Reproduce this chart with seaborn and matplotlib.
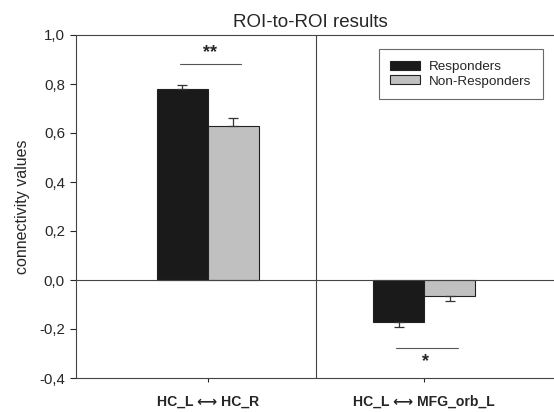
import matplotlib
matplotlib.use("Agg")
import matplotlib.pyplot as plt
import seaborn as sns
import pandas as pd
import numpy as np
from matplotlib.ticker import FuncFormatter

categories = ["HC_L \u27f7 HC_R", "HC_L \u27f7 MFG_orb_L"]
groups = ["Responders", "Non-Responders"]
responders = [0.78, -0.171]
non_responders = [0.629, -0.064]
resp_err = [0.016, 0.019]
nonresp_err = [0.032, 0.023]
sig_labels = ["**", "*"]
sig_y = [0.88, -0.279]

sns.set_style("white")
plt.rcParams['font.family'] = ['Liberation Sans', 'DejaVu Sans']

df = pd.DataFrame({
    "pair": categories * 2,
    "group": [groups[0]] * 2 + [groups[1]] * 2,
    "value": responders + non_responders,
})

fig = plt.figure(figsize=(5.54, 4.12), dpi=100)
ax = fig.add_axes([76 / 554, 34 / 412, 478 / 554, 343 / 412])

sns.barplot(data=df, x="pair", y="value", hue="group", hue_order=groups,
            palette=["#1a1a1a", "#c0c0c0"], edgecolor="#222222", linewidth=0.8,
            width=0.47, gap=0, errorbar=None, ax=ax)

# error bars (one-sided, away from zero)
errs = [resp_err, nonresp_err]
vals = [responders, non_responders]
bar_containers = list(ax.containers)
for gi, cont in enumerate(bar_containers):
    for ci, bar in enumerate(cont.patches):
        x = bar.get_x() + bar.get_width() / 2
        v = vals[gi][ci]
        e = errs[gi][ci]
        yerr = [[0], [e]] if v >= 0 else [[e], [0]]
        ax.errorbar([x], [v], yerr=yerr, fmt="none", ecolor="#333333",
                    elinewidth=0.9, capsize=3.8, capthick=0.9)

ax.set_xlim(-0.608, 1.599)
ax.set_ylim(-0.4, 1.0)
ax.set_yticks(np.arange(-0.4, 1.01, 0.2))
ax.yaxis.set_major_formatter(FuncFormatter(lambda v, p: f"{v:.1f}".replace(".", ",").replace("-0,0", "0,0")))
ax.axhline(0, color="#444444", lw=0.8)
ax.axvline(0.5, color="#444444", lw=0.8)

for i, (lab, y) in enumerate(zip(sig_labels, sig_y)):
    ax.plot([i - 0.13, i + 0.155], [y, y], color="#555555", lw=0.8)
    if y > 0:
        ax.text(i + 0.012, y + 0.012, lab, ha="center", va="bottom", fontsize=13, fontweight="bold")
    else:
        ax.text(i + 0.005, y - 0.018, lab, ha="center", va="top", fontsize=13, fontweight="bold")

ax.set_title("ROI-to-ROI results", fontsize=13.5, pad=6, x=0.49)
ax.set_ylabel("connectivity values", fontsize=11.5)
ax.yaxis.set_label_coords(-0.096, 0.5)
ax.set_xlabel("")
for t in ax.get_xticklabels():
    t.set_fontweight("bold")
    t.set_fontsize(10.1)
ax.tick_params(axis="y", labelsize=10.8, direction="out", length=4, pad=4, left=True)
ax.tick_params(axis="x", direction="out", length=3, bottom=True, pad=9)

for s in ["left", "bottom", "top"]:
    ax.spines[s].set_color("#444444")
    ax.spines[s].set_linewidth(0.8)
ax.spines["right"].set_visible(False)

leg = ax.legend(loc="upper right", bbox_to_anchor=(0.977, 0.959), frameon=True,
                fancybox=False, edgecolor="#444444", fontsize=9.7,
                handlelength=2.2, handleheight=0.65, labelspacing=0.2,
                borderpad=0.85, handletextpad=0.7, borderaxespad=0)
leg.get_frame().set_linewidth(0.8)

fig.savefig("out.png", dpi=100)
